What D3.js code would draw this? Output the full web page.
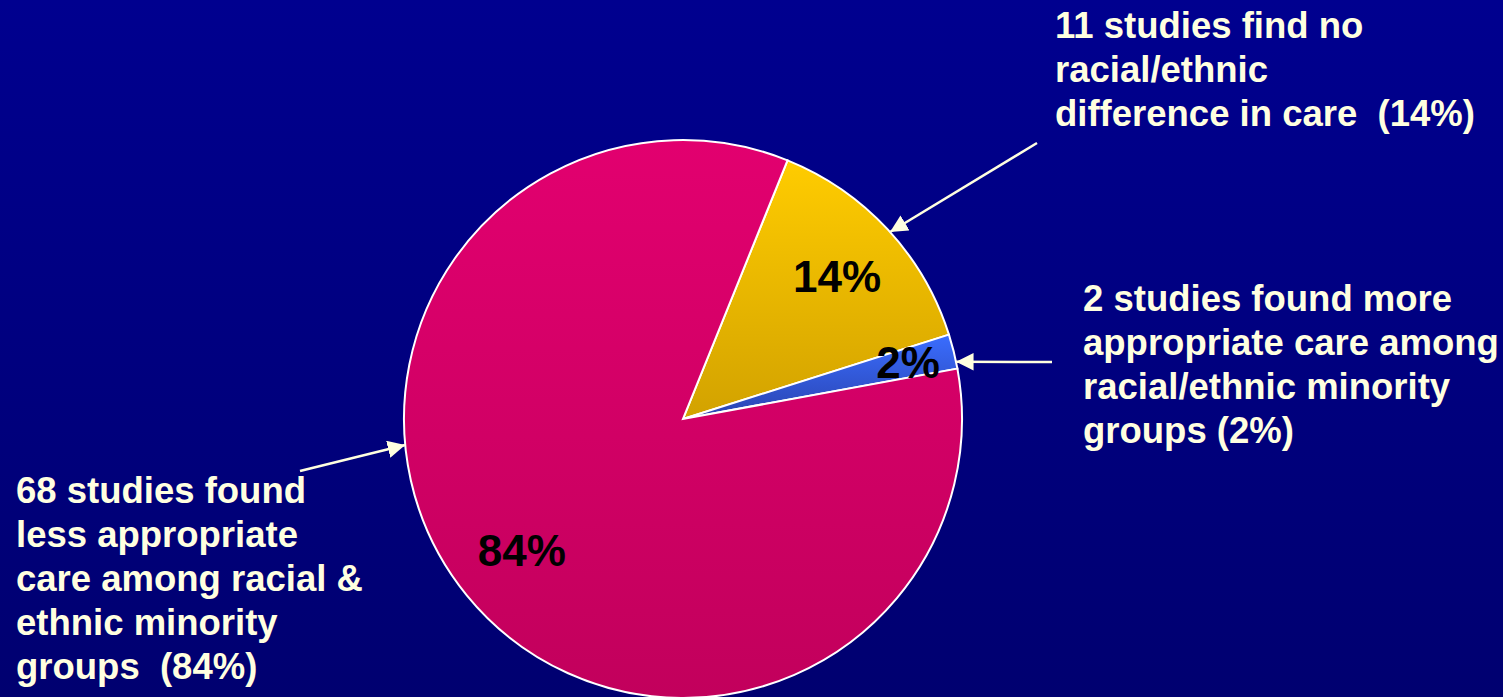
<!DOCTYPE html>
<html>
<head>
<meta charset="utf-8">
<script src="https://cdn.jsdelivr.net/npm/d3@7"></script>
<style>
  html, body { margin: 0; padding: 0; overflow: hidden; }
  svg { display: block; }
  text { font-family: "Liberation Sans", Arial, sans-serif; font-weight: bold; white-space: pre; }
</style>
</head>
<body>
<div id="app"></div>
<script>
// slice data (percent of 81 studies), in drawing order starting near 12 o'clock
const categories = ['none', 'more', 'less'];
const values = [14, 2, 84];
const sliceLabels = ['14%', '2%', '84%'];
const topColors = ['#FFCC00', '#3A6DFF', '#E2006F'];
const bottomColors = ['#D2A200', '#2A43B0', '#C2005C'];

const calloutNone = ['11 studies find no', 'racial/ethnic', 'difference in care  (14%)'];
const calloutMore = ['2 studies found more', 'appropriate care among', 'racial/ethnic minority', 'groups (2%)'];
const calloutLess = ['68 studies found', 'less appropriate', 'care among racial &', 'ethnic minority', 'groups  (84%)'];

const W = 1503, H = 697;
const cx = 683, cy = 419, R = 279;
const startDeg = 22;

const svg = d3.select('#app')
  .append('svg')
  .attr('width', W)
  .attr('height', H);

const defs = svg.append('defs');

const bg = defs.append('linearGradient')
  .attr('id', 'bg')
  .attr('x1', 0).attr('y1', 0).attr('x2', 0).attr('y2', 1);
bg.append('stop').attr('offset', 0).attr('stop-color', '#00008F');
bg.append('stop').attr('offset', 1).attr('stop-color', '#000070');

categories.forEach((c, i) => {
  const g = defs.append('linearGradient')
    .attr('id', 'grad-' + c)
    .attr('x1', 0).attr('y1', 0).attr('x2', 0).attr('y2', 1);
  g.append('stop').attr('offset', 0).attr('stop-color', topColors[i]);
  g.append('stop').attr('offset', 1).attr('stop-color', bottomColors[i]);
});

defs.append('marker')
  .attr('id', 'arrow')
  .attr('viewBox', '0 0 10 10')
  .attr('refX', 10).attr('refY', 5)
  .attr('markerWidth', 7).attr('markerHeight', 7)
  .attr('markerUnits', 'strokeWidth')
  .attr('orient', 'auto')
  .append('path')
  .attr('d', 'M0,0 L10,5 L0,10 z')
  .attr('fill', '#FFFFE0');

svg.append('rect')
  .attr('width', W).attr('height', H)
  .attr('fill', 'url(#bg)');

const pie = d3.pie()
  .sort(null)
  .value(d => d)
  .startAngle(startDeg * Math.PI / 180)
  .endAngle((startDeg + 360) * Math.PI / 180);

const arc = d3.arc().innerRadius(0).outerRadius(R);

const arcs = pie(values);

const g = svg.append('g').attr('transform', `translate(${cx},${cy})`);

g.selectAll('path.slice')
  .data(arcs)
  .join('path')
  .attr('class', 'slice')
  .attr('d', arc)
  .attr('fill', (d, i) => `url(#grad-${categories[i]})`)
  .attr('stroke', '#FFFFFF')
  .attr('stroke-width', 2);

// percent labels inside slices (label radius per slice)
const labelR = [210, 232, 208];
g.selectAll('text.pct')
  .data(arcs)
  .join('text')
  .attr('class', 'pct')
  .attr('transform', (d, i) => {
    const [x, y] = d3.arc().innerRadius(labelR[i]).outerRadius(labelR[i]).centroid(d);
    return `translate(${x},${y})`;
  })
  .attr('text-anchor', 'middle')
  .attr('dominant-baseline', 'central')
  .attr('font-size', 44)
  .attr('fill', '#000000')
  .text((d, i) => sliceLabels[i]);

// callout text blocks
const drawBlock = (lines, x, y0) => {
  svg.append('g')
    .selectAll('text')
    .data(lines)
    .join('text')
    .attr('x', x)
    .attr('y', (d, i) => y0 + i * 44)
    .attr('dominant-baseline', 'central')
    .attr('font-size', 36.5)
    .attr('fill', '#FFFFE0')
    .text(d => d);
};

drawBlock(calloutNone, 1055, 25);
drawBlock(calloutMore, 1083, 298);
drawBlock(calloutLess, 16, 490);

// arrows pointing to slice edges
const edgePoint = (i, frac) => {
  const a = arcs[i].startAngle + (arcs[i].endAngle - arcs[i].startAngle) * frac;
  return [cx + R * Math.sin(a), cy - R * Math.cos(a)];
};

const arrows = [
  { from: [1037, 143], to: edgePoint(0, 0.514) },
  { from: [1052, 362], to: edgePoint(1, 0.8) },
  { from: [300, 471], to: edgePoint(2, 0.612) }
];

svg.append('g')
  .selectAll('line')
  .data(arrows)
  .join('line')
  .attr('x1', d => d.from[0])
  .attr('y1', d => d.from[1])
  .attr('x2', d => d.to[0])
  .attr('y2', d => d.to[1])
  .attr('stroke', '#FFFFE0')
  .attr('stroke-width', 2.5)
  .attr('marker-end', 'url(#arrow)');
</script>
</body>
</html>
